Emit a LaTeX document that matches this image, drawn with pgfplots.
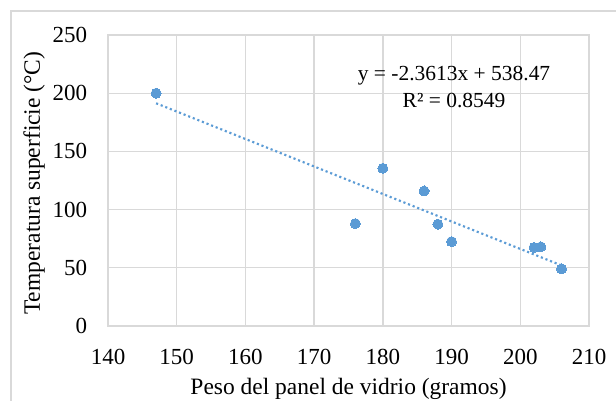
\documentclass[border=0pt]{standalone}
\usepackage{fontspec}
\setmainfont{Liberation Serif}
\usepackage{pgfplots}
\pgfplotsset{compat=1.18}
\definecolor{gridc}{HTML}{D9D9D9}
\definecolor{ptc}{HTML}{5B9BD5}
\begin{document}
\begin{tikzpicture}
\useasboundingbox (0,0) rectangle (462pt,300pt);
\draw[gridc, line width=1pt] (8.25pt,-20pt) -- (8.25pt,291.75pt) -- (480pt,291.75pt);
\begin{axis}[
  at={(81pt,55.5pt)}, anchor=south west,
  scale only axis, width=360.75pt, height=218.25pt,
  xmin=140, xmax=210, ymin=0, ymax=250,
  xtick={140,150,...,210}, ytick={0,50,...,250},
  grid=major, major grid style={gridc, line width=1pt},
  axis line style={gridc, line width=1pt},
  major tick length=0pt,
  tick label style={font=\rmfamily\fontsize{17.25}{20}\selectfont, inner sep=0pt},
  xticklabel={\pgfmathprintnumber[assume math mode=true]{\tick}},
  yticklabel={\pgfmathprintnumber[assume math mode=true]{\tick}},
  xticklabel style={anchor=center, yshift=-23pt},
  yticklabel style={anchor=east},
  yticklabel shift=15.5pt,
  xlabel={Peso del panel de vidrio (gramos)},
  ylabel={Temperatura superficie (°C)},
  label style={font=\rmfamily\fontsize{17.6}{20}\selectfont, inner sep=0pt},
  xlabel style={at={([yshift=-51pt]axis description cs:0.5,0)}, anchor=base},
  ylabel style={at={([xshift=-55.5pt,yshift=-2pt]axis description cs:0,0.5)}, anchor=center},
  clip=false,
]
\addplot[ptc, line width=1.6pt, dash pattern=on 1.6pt off 2.1pt] coordinates {(147,191.36) (206,52.04)};
\addplot[only marks, mark=*, mark size=3.75pt, mark options={fill=ptc, draw=ptc, line width=0pt}] coordinates {
(147,200) (176,88) (180,135.5) (186,116) (188,87.5) (190,72.5) (202,67.5) (203,68) (206,49)};
\node[anchor=base, font=\rmfamily\fontsize{16.1}{19}\selectfont, inner sep=0pt] at (axis cs:190.36,210.5) {y = -2.3613x + 538.47};
\node[anchor=base, font=\rmfamily\fontsize{16.1}{19}\selectfont, inner sep=0pt] at (axis cs:190.36,187.3) {R² = 0.8549};
\end{axis}
\end{tikzpicture}
\end{document}
